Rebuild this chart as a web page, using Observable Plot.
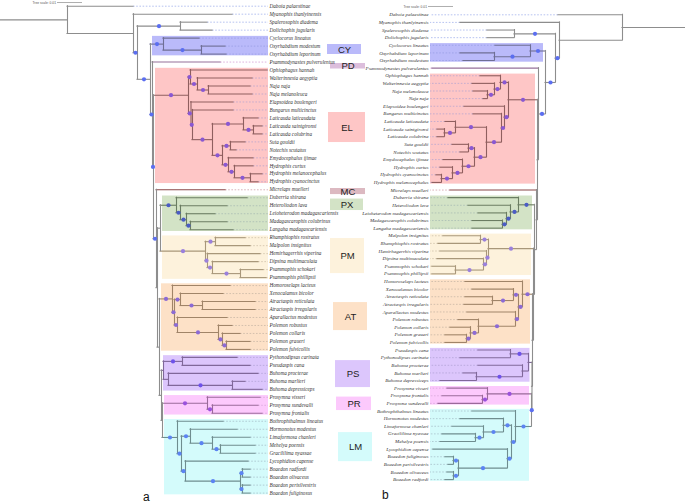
<!DOCTYPE html>
<html><head><meta charset="utf-8">
<script src="https://cdn.jsdelivr.net/npm/d3@7"></script>
<script src="https://cdn.jsdelivr.net/npm/@observablehq/plot@0.6"></script>
<style>
body{margin:0;background:#fff;}
#wrap{position:relative;width:685px;height:503px;overflow:hidden;background:#fff;}
#wrap svg{position:absolute;left:0;top:0;}
.panel{position:absolute;font-family:"Liberation Sans",Arial,sans-serif;font-size:12px;color:#111;line-height:1;}
</style></head><body>
<div id="wrap"></div>
<script>
// ---------- helpers to describe trees (d = distance from root, in 0.001 subst./site) ----------
const T = (name, d) => ({name, d});
const N = (d, s, ...children) => ({d, s, children});

// ---------- clade membership ----------
const cladeCodes = ["CY","PD","EL","MC","PX","PM","AT","PS","PR","LM"];
const cladeCY = ["Cyclocorus lineatus","Oxyrhabdium modestum","Oxyrhabdium leporinum"];
const cladePD = ["Psammodynastes pulverulentus"];
const cladeEL = ["Ophiophagus hannah","Walterinnesia aegyptia","Naja naja","Naja melanoleuca","Elapsoidea boulengeri","Bungarus multicinctus","Laticauda laticaudata","Laticauda saintgironsi","Laticauda colubrina","Suta gouldii","Notechis scutatus","Emydocephalus ijimae","Hydrophis curtus","Hydrophis melanocephalus","Hydrophis cyanocinctus"];
const cladeMC = ["Micrelaps muelleri"];
const cladePX = ["Duberria shirana","Heteroliodon lava","Leioheterodon madagascariensis","Madagascarophis colubrinus","Langaha madagascariensis"];
const cladePM = ["Rhamphiophis rostratus","Malpolon insignitus","Hemirhagerrhis viperina","Dipsina multimaculata","Psammophis schokari","Psammophis phillipsii"];
const cladeAT = ["Homoroselaps lacteus","Xenocalamus bicolor","Atractaspis reticulata","Atractaspis irregularis","Aparallactus modestus","Polemon robustus","Polemon collaris","Polemon graueri","Polemon fulvicollis"];
const cladePS = ["Pythonodipsas carinata","Pseudaspis cana","Buhoma procterae","Buhoma marlieri","Buhoma depressiceps"];
const cladePR = ["Prosymna visseri","Prosymna sundevalli","Prosymna frontalis"];
const cladeLM = ["Bothrophthalmus lineatus","Hormonotus modestus","Limaformosa chanleri","Mehelya poensis","Gracililima nyassae","Lycophidion capense","Boaedon radfordi","Boaedon olivaceus","Boaedon perisilvestris","Boaedon fuliginosus"];
const cladeMembers = [cladeCY,cladePD,cladeEL,cladeMC,cladePX,cladePM,cladeAT,cladePS,cladePR,cladeLM];
const boxedClades = ["CY","EL","PX","PM","AT","PS","PR","LM"];

const highlightLeft = ["Suta gouldii","Leioheterodon madagascariensis","Madagascarophis colubrinus","Langaha madagascariensis","Rhamphiophis rostratus","Malpolon insignitus","Xenocalamus bicolor","Aparallactus modestus"];
const highlightRight = ["Suta gouldii","Madagascarophis colubrinus","Malpolon insignitus","Rhamphiophis rostratus","Xenocalamus bicolor","Aparallactus modestus"];

// ---------- tree a ----------
const elA_hyd = N(93.6,1, T("Hydrophis curtus",101.2), N(100,1, T("Hydrophis melanocephalus",104.8), T("Hydrophis cyanocinctus",103.2)));
const elA_aus = N(88.8,1, N(92,1, T("Suta gouldii",98), T("Notechis scutatus",94.4)), N(91.2,1, T("Emydocephalus ijimae",101.2), elA_hyd));
const elA_lat = N(97.2,1, T("Laticauda laticaudata",103.2), N(101.2,1, T("Laticauda saintgironsi",104.8), T("Laticauda colubrina",104.8)));
const elA_eb = N(76.2,1, T("Elapsoidea boulengeri",93.2), N(76.8,1, T("Bungarus multicinctus",93.2), N(84.8,1, elA_lat, elA_aus)));
const elA_o = N(76,1, T("Ophiophagus hannah",106.8), N(78.8,1, T("Walterinnesia aegyptia",100.8), N(83.2,1, T("Naja naja",100), T("Naja melanoleuca",100.8))));
const elA = N(75.2,1, elA_o, elA_eb);
const pxA = N(70.4,1, T("Duberria shirana",98.8), N(72,1, T("Heteroliodon lava",90.8), N(74.4,1, T("Leioheterodon madagascariensis",86), N(76,1, T("Madagascarophis colubrinus",90.8), T("Langaha madagascariensis",93.2)))));
const pmA_h = N(82.8,1, T("Hemirhagerrhis viperina",104), N(84.8,1, T("Dipsina multimaculata",103.2), N(96,1, T("Psammophis schokari",105.2), T("Psammophis phillipsii",106.4))));
const pmA = N(82,1, N(86,1, T("Rhamphiophis rostratus",98), T("Malpolon insignitus",100)), pmA_h);
const atA_pol = N(87.2,1, T("Polemon robustus",92.8), N(88.8,1, T("Polemon collaris",96), N(90.4,1, T("Polemon graueri",100), T("Polemon fulvicollis",100))));
const atA_a3 = N(72,1, T("Xenocalamus bicolor",89.2), N(80.8,1, T("Atractaspis reticulata",102), T("Atractaspis irregularis",102)));
const atA = N(68.8,1, T("Homoroselaps lacteus",92), N(69.6,1, atA_a3, N(70.8,1, T("Aparallactus modestus",90.8), atA_pol)));
const psA = N(65.2,0, N(72.8,1, T("Pythonodipsas carinata",94.8), T("Pseudaspis cana",100)), N(67.2,0, T("Buhoma procterae",103.2), N(92.8,1, T("Buhoma marlieri",98), T("Buhoma depressiceps",104.8))));
const prA = N(82.8,1, T("Prosymna visseri",104), N(84.8,1, T("Prosymna sundevalli",103.2), T("Prosymna frontalis",104.8)));
const lmA_l3 = N(76,1, T("Hormonotus modestus",94.8), N(84.8,1, T("Limaformosa chanleri",100), N(88,1, T("Mehelya poensis",102), T("Gracililima nyassae",102))));
const lmA_bo = N(96,1, N(96.8,1, T("Boaedon radfordi",100), T("Boaedon olivaceus",100)), N(96.8,1, T("Boaedon perisilvestris",100), T("Boaedon fuliginosus",100)));
const lmA = N(70.8,1, T("Bothrophthalmus lineatus",89.2), N(72.4,1, lmA_l3, N(74,1, T("Lycophidion capense",99.2), lmA_bo)));
const coreA = N(62.8,0, N(64,0, pxA, pmA), N(63.6,0, atA, N(64.4,0, psA, N(64.8,0, prA, lmA))));
const n6A = N(61.2,1, elA, N(62.4,1, T("Micrelaps muelleri",90), coreA));
const n4A = N(60,1, N(65.2,1, T("Cyclocorus lineatus",79.6), N(80.4,1, T("Oxyrhabdium modestum",90), T("Oxyrhabdium leporinum",90.4))), N(60.8,1, T("Psammodynastes pulverulentus",88), n6A));
const treeA = N(26.8,0, T("Daboia palaestinae",53.2), N(53.2,0, T("Myanophis thanlyinensis",92.8), N(54.8,1, N(72,1, T("Spalerosophis diadema",82.8), T("Dolichophis jugularis",84.8)), n4A)));

// ---------- tree b ----------
const elB_hyd = N(93.2,1, T("Hydrophis curtus",98), N(97.6,1, T("Hydrophis cyanocinctus",99.6), T("Hydrophis melanocephalus",101.2)));
const elB_aus = N(84.4,1, N(86.8,1, T("Suta gouldii",93.2), T("Notechis scutatus",90)), N(89.2,1, T("Emydocephalus ijimae",96.8), elB_hyd));
const elB_lat = N(92,1, T("Laticauda laticaudata",96), N(96.4,1, T("Laticauda saintgironsi",99.2), T("Laticauda colubrina",99.2)));
const elB_eb = N(72.4,1, T("Elapsoidea boulengeri",88.4), N(73.6,1, T("Bungarus multicinctus",84.8), N(79.6,1, elB_lat, elB_aus)));
const elB_o = N(74,1, T("Ophiophagus hannah",82), N(76.4,1, T("Walterinnesia aegyptia",85.2), N(79.2,1, T("Naja melanoleuca",84.8), T("Naja naja",80.8))));
const elB = N(70.8,1, elB_o, elB_eb);
const pxB = N(66.8,1, T("Duberria shirana",94.8), N(70,1, T("Heteroliodon lava",86.8), N(71.6,1, T("Leioheterodon madagascariensis",82.8), N(73.2,1, T("Madagascarophis colubrinus",85.2), T("Langaha madagascariensis",85.2)))));
const pmB_h = N(79.6,1, T("Hemirhagerrhis viperina",98), N(80.8,1, T("Dipsina multimaculata",99.2), N(92,1, T("Psammophis schokari",101.2), T("Psammophis phillipsii",101.2))));
const pmB = N(78.8,1, N(82,1, T("Malpolon insignitus",96.8), T("Rhamphiophis rostratus",98.8)), pmB_h);
const atB_pol = N(82.8,1, T("Polemon robustus",90.8), N(86,1, T("Polemon collaris",94), N(87.6,1, T("Polemon graueri",96), T("Polemon fulvicollis",96))));
const atB_x3 = N(68.8,1, T("Xenocalamus bicolor",85.2), N(77.2,1, T("Atractaspis reticulata",88), T("Atractaspis irregularis",88.4)));
const atB = N(65.2,1, T("Homoroselaps lacteus",88), N(66.8,1, atB_x3, N(68,1, T("Aparallactus modestus",87.2), atB_pol)));
const psB = N(62.8,0, N(70,1, T("Pseudaspis cana",82.8), T("Pythonodipsas carinata",90)), N(65.2,0, T("Buhoma procterae",82.8), N(83.6,1, T("Buhoma marlieri",88.8), T("Buhoma depressiceps",98))));
const prB = N(79.2,1, T("Prosymna visseri",95.2), N(81.2,1, T("Prosymna frontalis",97.2), T("Prosymna sundevalli",98.8)));
const lmB_l3 = N(72.8,1, T("Hormonotus modestus",90), N(80.8,1, T("Limaformosa chanleri",93.2), N(84,1, T("Gracililima nyassae",97.2), T("Mehelya poensis",98))));
const lmB_bo = N(90.8,1, N(92.8,1, T("Boaedon fuliginosus",96), T("Boaedon perisilvestris",94.8)), N(92.8,1, T("Boaedon olivaceus",95.2), T("Boaedon radfordi",96)));
const lmB = N(68,1, T("Bothrophthalmus lineatus",85.2), N(69.6,1, lmB_l3, N(71.2,1, T("Lycophidion capense",100.8), lmB_bo)));
const coreB = N(60.4,0, pxB, N(60.8,0, pmB, N(61.2,0, atB, N(61.4,0, psB, N(61.6,1, prB, lmB)))));
const r6B = N(59.2,0, elB, N(59.6,0, T("Micrelaps muelleri",94), coreB));
const r4B = N(56,1, N(62,1, T("Cyclocorus lineatus",76), N(76.4,1, T("Oxyrhabdium leporinum",90), T("Oxyrhabdium modestum",88.8))), N(58.8,1, T("Psammodynastes pulverulentus",101.2), r6B));
const treeB = N(25.2,0, T("Daboia palaestinae",50.8), N(50.4,0, T("Myanophis thanlyinensis",90), N(52,1, N(68.4,1, T("Spalerosophis diadema",79.2), T("Dolichophis jugularis",79.2)), r4B)));

// ---------- styles ----------
const fillColor = {CY:"#babafa",PD:"#dcbedc",EL:"#fec6c6",MC:"#dcb9c1",PX:"#d3e3c6",PM:"#fdf2dc",AT:"#fde1c7",PS:"#dcc6fc",PR:"#fcc9fc",LM:"#d4fbfb"};
const lineColor = {out:"#8d8d8d",CY:"#6f6f95",PD:"#96709a",EL:"#8f5f5f",MC:"#8a4848",PX:"#6b7d62",PM:"#a8977a",AT:"#a08468",PS:"#80689a",PR:"#9a6a9a",LM:"#6f8d8f"};
const dashColor = {out:"#a4b4ec",CY:"#9aa0e6",PD:"#d6a0d6",EL:"#b9a6cf",MC:"#d0a0a8",PX:"#a9bcb4",PM:"#cfc2aa",AT:"#c9b8a6",PS:"#b4a4d8",PR:"#d8a8dc",LM:"#a8c2cc"};
const dotColor = {out:"#5b6ef0",CY:"#5b6ef0",EL:"#8a58d2",PX:"#4b5cc4",PM:"#9a80dc",AT:"#8c6ad4",PS:"#6e52ea",PR:"#9a52dc",LM:"#5c84f2"};

const cladeOf = new Map();
cladeMembers.forEach((m, i) => m.forEach(n => cladeOf.set(n, cladeCodes[i])));

function layoutTree(root) {
  const tips = [], inner = [];
  let row = 0;
  (function walk(node, parent) {
    node.parent = parent;
    if (node.children) {
      node.children.forEach(c => walk(c, node));
      node.y = (node.children[0].y + node.children[node.children.length - 1].y) / 2;
      node.tipNames = node.children.flatMap(c => c.tipNames);
      inner.push(node);
    } else {
      node.y = row++;
      node.tipNames = [node.name];
      tips.push(node);
    }
  })(root, null);
  const all = [...tips, ...inner];
  all.forEach(n => {
    const cs = new Set(n.tipNames.map(t => cladeOf.get(t) ?? "out"));
    n.clade = cs.size === 1 ? [...cs][0] : "out";
  });
  return {tips, inner, all, root};
}

// total width of the figure in tree units (0.001 subst./site); 0.01 = 25 px
const W = 274;

function treeMarks(L, X, tipEnd, labelAt, anchor, fs, highlight) {
  const branches = L.all.map(n => ({x1: X(n.parent ? n.parent.d : 0), x2: X(n.d), y: n.y, c: lineColor[n.clade]}));
  const verticals = L.inner.map(n => ({x: X(n.d), y1: n.children[0].y, y2: n.children[n.children.length - 1].y, c: lineColor[n.clade]}));
  const dashes = L.tips.filter(t => t.d < tipEnd - 0.3).map(t => ({x1: X(t.d), x2: X(tipEnd), y: t.y, c: dashColor[t.clade]}));
  const dots = L.inner.filter(n => n.s && n.parent).map(n => ({x: X((n.d + n.parent.d) / 2), y: n.y, c: dotColor[n.clade] || "#6a6af0"}));
  const boxes = boxedClades.map(code => {
    const members = cladeMembers[cladeCodes.indexOf(code)];
    const node = L.inner.find(n => n.tipNames.length === members.length && members.every(m => n.tipNames.includes(m)));
    const rows = L.tips.filter(t => members.includes(t.name)).map(t => t.y);
    return {x1: X(node.parent.d + 0.8), x2: X(tipEnd), y1: d3.min(rows) - 0.22, y2: d3.max(rows) + 0.22, fill: fillColor[code]};
  });
  const labels = L.tips.map(t => ({x: X(labelAt), y: t.y, name: t.name}));
  const textOpts = {x: "x", y: "y", text: "name", textAnchor: anchor, fontSize: fs, fontStyle: "italic", fontFamily: "Liberation Serif, Times New Roman, serif", fill: "#333"};
  return [
    Plot.rect(boxes, {x1: "x1", x2: "x2", y1: "y1", y2: "y2", fill: "fill"}),
    Plot.ruleY(dashes, {x1: "x1", x2: "x2", y: "y", stroke: "c", strokeWidth: 0.8, strokeDasharray: "1.6,1.6"}),
    Plot.ruleY(branches, {x1: "x1", x2: "x2", y: "y", stroke: "c", strokeWidth: 1.1, strokeLinecap: "square"}),
    Plot.ruleX(verticals, {x: "x", y1: "y1", y2: "y2", stroke: "c", strokeWidth: 1.1, strokeLinecap: "square"}),
    Plot.dot(dots, {x: "x", y: "y", r: 2.1, fill: "c", stroke: "none"}),
    Plot.text(labels.filter(d => !highlight.includes(d.name)), textOpts),
    Plot.text(labels.filter(d => highlight.includes(d.name)), {...textOpts, ariaLabel: "highlighted taxa"})
  ];
}

const LA = layoutTree(treeA);
const LB = layoutTree(treeB);
const XA = d => d;
const XB = d => W - d;

// middle clade key (layout: x in tree units, y in rows of tree a)
const keyLayout = [
  {code:"CY", x1:130.8, x2:144.4, y1:4.80, y2:6.05},
  {code:"PD", x1:132.0, x2:146.0, y1:7.18, y2:7.87},
  {code:"EL", x1:131.2, x2:146.0, y1:13.32, y2:17.08},
  {code:"MC", x1:132.0, x2:146.0, y1:22.84, y2:23.60},
  {code:"PX", x1:132.0, x2:145.2, y1:24.16, y2:25.60},
  {code:"PM", x1:132.0, x2:145.6, y1:29.11, y2:33.50},
  {code:"AT", x1:133.2, x2:146.8, y1:37.13, y2:40.64},
  {code:"PS", x1:134.0, x2:148.0, y1:44.40, y2:47.78},
  {code:"PR", x1:134.4, x2:148.4, y1:48.97, y2:50.66},
  {code:"LM", x1:135.2, x2:148.8, y1:53.42, y2:57.06}
].map(k => ({...k, fill: fillColor[k.code], cx: (k.x1 + k.x2) / 2, cy: (k.y1 + k.y2) / 2}));

const plotA = Plot.plot({
  width: 685, height: 503, margin: 0,
  x: {domain: [0, W], range: [0, 685], axis: null},
  y: {domain: [0, 61], range: [5.7, 492.6], axis: null},
  color: {type: "identity"},
  style: {background: "transparent", overflow: "visible"},
  marks: [
    Plot.rect(keyLayout, {x1: "x1", x2: "x2", y1: "y1", y2: "y2", fill: "fill"}),
    Plot.text(keyLayout, {x: "cx", y: "cy", text: "code", fontSize: 9.5, fontFamily: "Liberation Sans, Arial, sans-serif", fill: "#222"}),
    ...treeMarks(LA, XA, 107.2, 107.6, "start", 5.2, highlightLeft),
    Plot.ruleY([{x1: 22.8, x2: 32.8, y: -0.46}], {x1: "x1", x2: "x2", y: "y", stroke: "#777", strokeWidth: 0.6}),
    Plot.text([{x: 22.2, y: -0.46, t: "Tree scale: 0.01"}], {x: "x", y: "y", text: "t", textAnchor: "end", fontSize: 3.3, fontFamily: "Liberation Sans, Arial, sans-serif", fill: "#555"})
  ]
});

const plotB = Plot.plot({
  width: 685, height: 503, margin: 0,
  x: {domain: [0, W], range: [0, 685], axis: null},
  y: {domain: [0, 61], range: [14.3, 479.1], axis: null},
  color: {type: "identity"},
  style: {background: "transparent", overflow: "visible"},
  marks: [
    ...treeMarks(LB, XB, 102, 102.8, "end", 5.0, highlightRight),
    Plot.ruleY([{x1: 171.2, x2: 181.2, y: -1.09}], {x1: "x1", x2: "x2", y: "y", stroke: "#777", strokeWidth: 0.6}),
    Plot.text([{x: 170.6, y: -1.09, t: "Tree scale: 0.01"}], {x: "x", y: "y", text: "t", textAnchor: "end", fontSize: 3.3, fontFamily: "Liberation Sans, Arial, sans-serif", fill: "#555"})
  ]
});

const wrap = document.getElementById("wrap");
wrap.appendChild(plotA);
wrap.appendChild(plotB);
for (const svg of [plotA, plotB]) {
  svg.querySelectorAll('g[aria-label="highlighted taxa"] text').forEach(t => {
    t.style.textDecoration = "underline";
    t.style.textDecorationColor = "#7ea4dc";
  });
}
const pa = document.createElement("div"); pa.className = "panel"; pa.textContent = "a"; pa.style.left = "143px"; pa.style.top = "491px";
const pb = document.createElement("div"); pb.className = "panel"; pb.textContent = "b"; pb.style.left = "382px"; pb.style.top = "489px";
wrap.appendChild(pa); wrap.appendChild(pb);
</script></body></html>
